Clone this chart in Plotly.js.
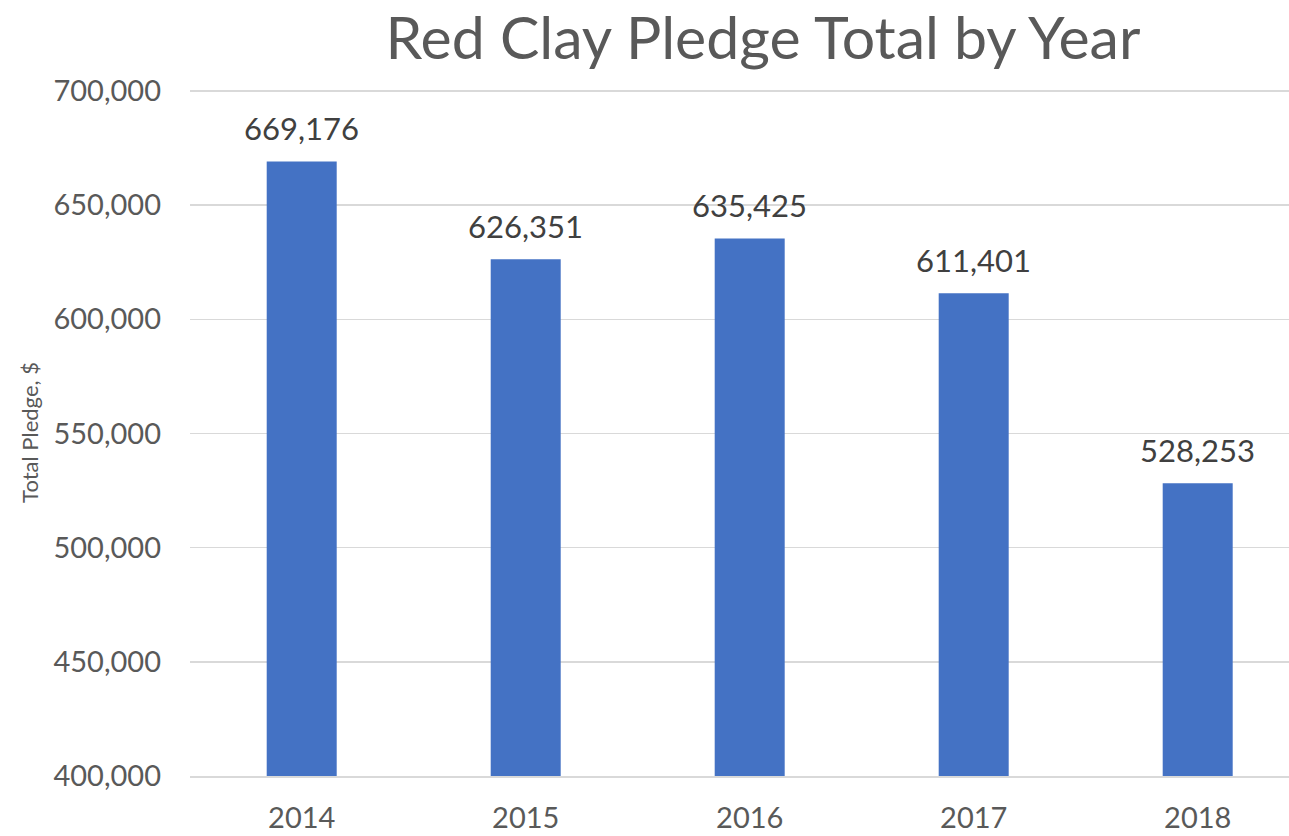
<!DOCTYPE html>
<html>
<head>
<meta charset="utf-8">
<script src="https://cdn.plot.ly/plotly-3.0.1.min.js"></script>
<style>html,body{margin:0;padding:0;background:#fff;}#chart{width:1289px;height:836px;}</style>
</head>
<body>
<div id="chart"></div>
<script>
const years = ['2014', '2015', '2016', '2017', '2018'];
const pledgeTotals = [669176, 626351, 635425, 611401, 528253];
const yTickValues = [400000, 450000, 500000, 550000, 600000, 650000, 700000];
const yTickLabels = ['400,000', '450,000', '500,000', '550,000', '600,000', '650,000', '700,000'];

const FONT = 'Lato, "Open Sans", sans-serif';
const fmt = v => v.toLocaleString('en-US');

const trace = {
  type: 'bar',
  x: years,
  y: pledgeTotals,
  marker: {color: '#4472C4'},
  width: 0.3125,
  hoverinfo: 'x+y'
};

const annotations = years.map((yr, i) => ({
  x: i, y: pledgeTotals[i], xref: 'x', yref: 'y',
  text: fmt(pledgeTotals[i]), showarrow: false,
  yanchor: 'bottom', yshift: 12,
  font: {family: FONT, size: 31, color: '#404040'}
}));

const layout = {
  width: 1289, height: 836,
  margin: {l: 190, r: 0, t: 89, b: 60},
  paper_bgcolor: '#ffffff', plot_bgcolor: '#ffffff',
  showlegend: false,
  title: {
    text: 'Red Clay Pledge Total by Year',
    x: 763 / 1289, xanchor: 'center', xref: 'container',
    y: 1 - 38 / 836, yanchor: 'middle', yref: 'container',
    font: {family: FONT, size: 59, color: '#595959'}
  },
  xaxis: {
    type: 'category',
    range: [-0.4987, 4.4076],
    showgrid: false,
    showline: true, linecolor: '#d9d9d9', linewidth: 1.5,
    ticks: '',
    tickfont: {family: FONT, size: 29, color: '#595959'},
    ticklabelstandoff: 16,
    fixedrange: true
  },
  yaxis: {
    range: [400000, 700876],
    tickvals: yTickValues,
    ticktext: yTickLabels,
    showgrid: true, gridcolor: '#d9d9d9', gridwidth: 1.5,
    zeroline: false, showline: false,
    ticks: '',
    tickfont: {family: FONT, size: 29, color: '#595959'},
    ticklabelstandoff: 28,
    title: {text: 'Total Pledge, $', standoff: 8, font: {family: FONT, size: 22, color: '#595959'}},
    automargin: false,
    fixedrange: true
  },
  annotations: annotations
};

Plotly.newPlot('chart', [trace], layout, {displayModeBar: false, staticPlot: true});
</script>
</body>
</html>
